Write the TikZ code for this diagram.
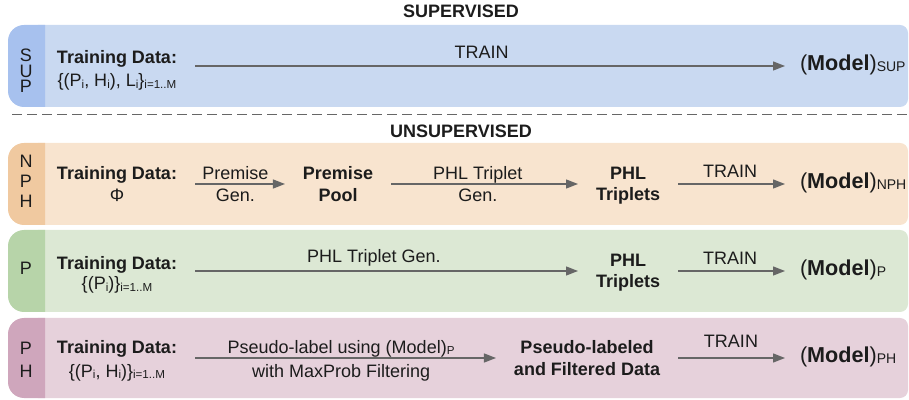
\documentclass[tikz,border=0pt]{standalone}
\usepackage{fontspec}
\setmainfont{Liberation Sans}
\usetikzlibrary{arrows.meta, positioning, calc}
\definecolor{supband}{HTML}{C9D9F1}
\definecolor{suptab}{HTML}{A7C1EE}
\definecolor{nphband}{HTML}{F8E4CF}
\definecolor{nphtab}{HTML}{F0C9A0}
\definecolor{pband}{HTML}{DCE8D4}
\definecolor{ptab}{HTML}{B7D4A9}
\definecolor{phband}{HTML}{E6D1DB}
\definecolor{phtab}{HTML}{CFA6BC}
\definecolor{arrowgray}{HTML}{666666}
\definecolor{textdark}{HTML}{1C1C1C}
\newcommand{\lowsub}[1]{\raisebox{-1pt}{\fontsize{5.8}{6}\selectfont #1}}
\newcommand{\modelsub}[1]{\raisebox{-0.5pt}{\fontsize{7}{7}\selectfont #1}}

\begin{document}
\begin{tikzpicture}[x=0.5pt, y=-0.5pt,
    txt/.style={anchor=base, inner sep=0pt, outer sep=0pt, align=center, text=textdark, font=\fontsize{9}{11}\selectfont},
    bold/.style={txt, font=\fontsize{9}{11}\selectfont\bfseries},
    model/.style={txt, anchor=base west, font=\fontsize{10.8}{12}\selectfont},
    flow/.style={draw=arrowgray, line width=0.65pt, -{Triangle[length=6pt, width=4.5pt]}, shorten <=9pt, shorten >=9pt},
    lbl/.style={txt}]
    \useasboundingbox (0,0) rectangle (909,400);

    % Bands with coloured tabs
    \foreach \ytop/\ybot/\bcol/\tcol in {25/107/supband/suptab, 143/225/nphband/nphtab, 230/312/pband/ptab, 318/398/phband/phtab} {
        \fill[\bcol, rounded corners=4pt] (30,\ytop) rectangle (908,\ybot);
        \begin{scope}
            \clip (8,\ytop) rectangle (45,\ybot);
            \fill[\tcol, rounded corners=8pt] (8,\ytop) rectangle (80,\ybot);
        \end{scope}
    }

    % Titles and divider
    \node[bold] (suptitle) at (461,18) {SUPERVISED};
    \draw[arrowgray, line width=0.5pt, dash pattern=on 5pt off 2.5pt] (12,115) -- (908,115);
    \node[bold] (unsuptitle) at (461,138) {UNSUPERVISED};

    % SUP row (multi-line nodes sit on the baseline of their last line)
    \coordinate (suprow) at (0,66);
    \node[txt, font=\fontsize{9}{7.75}\selectfont] (suptab) at (26,93) {S\\U\\P};
    \node[txt, font=\fontsize{9}{11.5}\selectfont] (suptd) at (117,87) {\textbf{Training Data:}\\\{(P\lowsub{i}, H\lowsub{i}), L\lowsub{i}\}\lowsub{i=1..M}};
    \node[model] (supmodel) at (800,70.5) {(\textbf{Model})\modelsub{SUP}};
    \draw[flow, shorten >=7.5pt] (suptd.east |- suprow) -- (supmodel.west |- suprow)
        node[lbl, pos=0.489, yshift=3.5pt] (suptrain) {TRAIN};

    % NPH row
    \coordinate (nphrow) at (0,184);
    \node[txt, font=\fontsize{9}{10}\selectfont] (nphtab) at (26,208) {N\\P\\H};
    \node[txt] (nphtd) at (117,202) {\textbf{Training Data:}\\Φ};
    \node[bold] (pool) at (338,202) {Premise\\Pool};
    \node[bold, font=\fontsize{9}{10.5}\selectfont\bfseries] (nphtrip) at (628,201) {PHL\\Triplets};
    \node[model] (nphmodel) at (800,188.5) {(\textbf{Model})\modelsub{NPH}};
    \draw[flow] (nphtd.east |- nphrow) -- (pool.west |- nphrow)
        node[lbl, pos=0.464, yshift=-9pt] (premgen) {Premise\\Gen.};
    \draw[flow] (pool.east |- nphrow) -- (nphtrip.west |- nphrow)
        node[lbl, pos=0.47, yshift=-9pt] (nphgen) {PHL Triplet\\Gen.};
    \draw[flow, shorten >=7.5pt] (nphtrip.east |- nphrow) -- (nphmodel.west |- nphrow)
        node[lbl, pos=0.5, yshift=3pt] (nphtrain) {TRAIN};

    % P row
    \coordinate (prow) at (0,271);
    \node[txt] (ptab) at (26,275) {P};
    \node[txt, font=\fontsize{9}{10}\selectfont] (ptd) at (117,290) {\textbf{Training Data:}\\\{(P\lowsub{i})\}\lowsub{i=1..M}};
    \node[bold, font=\fontsize{9}{10.5}\selectfont\bfseries] (ptrip) at (628,288) {PHL\\Triplets};
    \node[model] (pmodel) at (800,275.5) {(\textbf{Model})\modelsub{P}};
    \draw[flow] (ptd.east |- prow) -- (ptrip.west |- prow)
        node[lbl, pos=0.47, yshift=4pt] (pgen) {PHL Triplet Gen.};
    \draw[flow, shorten >=7.5pt] (ptrip.east |- prow) -- (pmodel.west |- prow)
        node[lbl, pos=0.5, yshift=3pt] (ptrain) {TRAIN};

    % PH row
    \coordinate (phrow) at (0,358);
    \node[txt, font=\fontsize{9}{11}\selectfont] (phtab) at (26,377) {P\\H};
    \node[txt, font=\fontsize{9}{12}\selectfont] (phtd) at (117,377) {\textbf{Training Data:}\\\{(P\lowsub{i}, H\lowsub{i})\}\lowsub{i=1..M}};
    \node[bold] (pseudo) at (587,375) {Pseudo-labeled\\and Filtered Data};
    \node[model] (phmodel) at (800,362.5) {(\textbf{Model})\modelsub{PH}};
    \draw[flow] (phtd.east |- phrow) -- (pseudo.west |- phrow)
        node[lbl, pos=0.487, yshift=-9.5pt, font=\fontsize{9}{12}\selectfont] (pslabel) {Pseudo-label using (Model)\lowsub{P}\\with MaxProb Filtering};
    \draw[flow, shorten >=7.5pt] (pseudo.east |- phrow) -- (phmodel.west |- phrow)
        node[lbl, pos=0.507, yshift=5pt] (phtrain) {TRAIN};
\end{tikzpicture}
\end{document}
